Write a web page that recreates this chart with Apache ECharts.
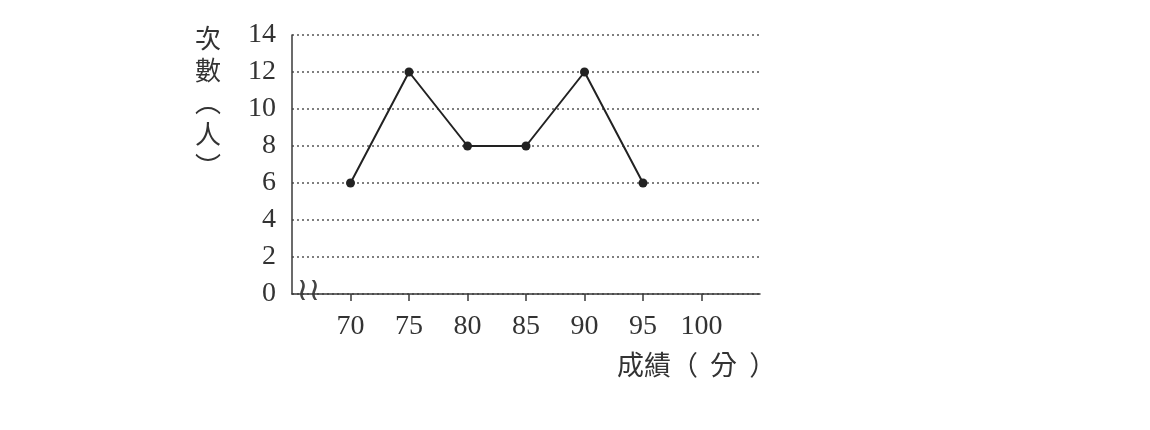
<!DOCTYPE html>
<html><head><meta charset="utf-8">
<script src="https://cdn.jsdelivr.net/npm/echarts@6/dist/echarts.min.js"></script>
<style>html,body{margin:0;padding:0;background:#fff}#c{width:1150px;height:430px}</style>
</head><body><div id="c"></div>
<script>
const scores = [70, 75, 80, 85, 90, 95];
const counts = [6, 12, 8, 8, 12, 6];
const xTickValues = [70, 75, 80, 85, 90, 95, 100];
const yTickValues = [0, 2, 4, 6, 8, 10, 12, 14];
const yName = '次\n數\n︵\n人\n︶';
const xName = '成績（  分  ）';

const chart = echarts.init(document.getElementById('c'));
const serif = '"Liberation Serif", "DejaVu Serif", serif';
const cjk = '"Noto Sans CJK TC", "Noto Sans CJK SC", sans-serif';
chart.setOption({
  animation: false,
  backgroundColor: '#fff',
  grid: { left: 292, right: 390, top: 35, bottom: 136, containLabel: false },
  xAxis: {
    type: 'value', min: 65, max: 105, interval: 5,
    axisLine: { show: true, onZero: false, lineStyle: { color: '#3a3a3a', width: 1.5 } },
    axisTick: { show: true, customValues: xTickValues, length: 7, lineStyle: { color: '#3a3a3a', width: 1.5 } },
    axisLabel: { customValues: xTickValues, color: '#333', fontFamily: serif, fontSize: 28, margin: 19 },
    splitLine: { show: false }
  },
  yAxis: {
    type: 'value', min: 0, max: 14, interval: 2,
    axisLine: { show: true, lineStyle: { color: '#3a3a3a', width: 1.5 } },
    axisTick: { show: false },
    axisLabel: { customValues: yTickValues, color: '#333', fontFamily: serif, fontSize: 28, margin: 16 },
    splitLine: { show: true, lineStyle: { color: '#555', width: 1.6, type: [2, 3] } }
  },
  series: [{
    type: 'line',
    data: scores.map((s, i) => [s, counts[i]]),
    symbol: 'circle', symbolSize: 9,
    lineStyle: { color: '#222', width: 2 },
    itemStyle: { color: '#222' }
  }]
});
const p = chart.convertToPixel({ gridIndex: 0 }, [66.4, 0]);
chart.setOption({ graphic: [
  { type: 'text', x: 208, y: 22,
    style: { text: yName, fontFamily: cjk, fontSize: 26, fill: '#333', lineHeight: 32, align: 'center' } },
  { type: 'text', x: 617, y: 351,
    style: { text: xName, fontFamily: cjk, fontSize: 27, fill: '#333', align: 'left' } },
  { type: 'text', x: p[0], y: p[1] - 2,
    style: { text: '≀≀', fontFamily: 'DejaVu Sans', fontSize: 32, fill: '#444', align: 'center', verticalAlign: 'middle' } }
] });
</script></body></html>
